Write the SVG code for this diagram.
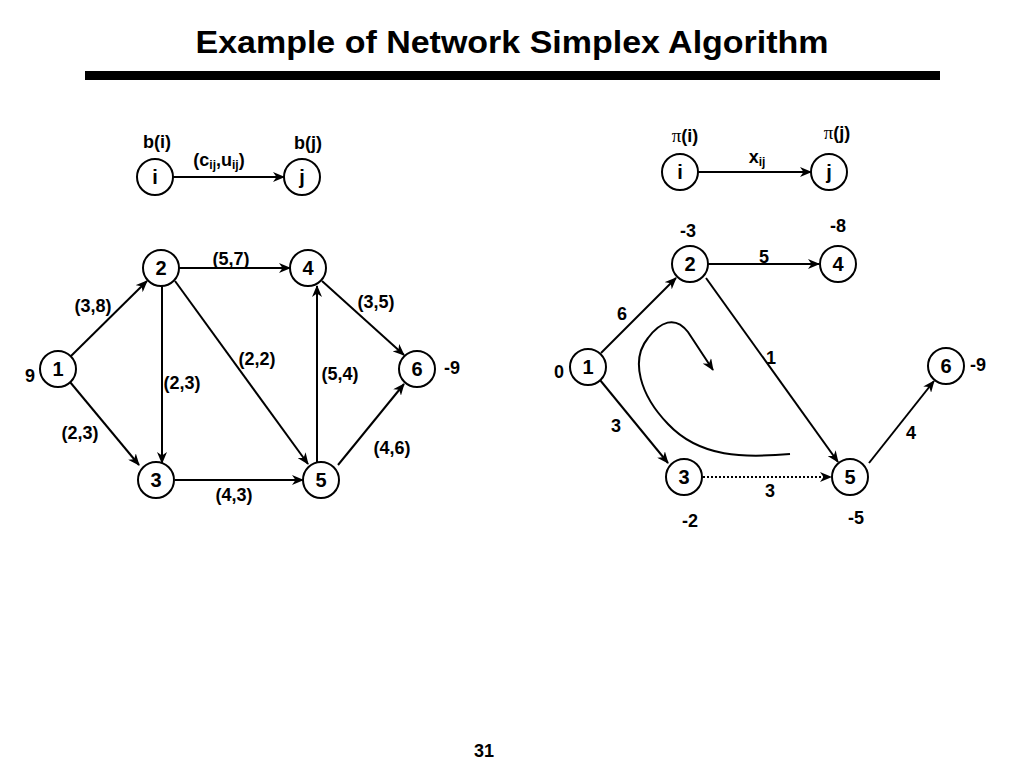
<svg xmlns="http://www.w3.org/2000/svg" width="1024" height="768" viewBox="0 0 1024 768">
<defs>
<marker id="ah" viewBox="0 0 12 10" refX="11" refY="5" markerWidth="12" markerHeight="10" markerUnits="userSpaceOnUse" orient="auto">
<path d="M0,0 L12,5 L0,10 L3.5,5 z" fill="#000"/>
</marker>
<style>
.n{fill:#fff;stroke:#000;stroke-width:2}
.nt{font-family:"Liberation Sans",Arial,sans-serif;font-weight:bold;font-size:20px;text-anchor:middle;fill:#000}
.lb{font-family:"Liberation Sans",Arial,sans-serif;font-weight:bold;font-size:18px;text-anchor:middle;fill:#000}
.gr{font-family:"Liberation Serif","DejaVu Serif",serif;font-weight:normal;font-size:19px}
.e{stroke:#000;stroke-width:2;fill:none;marker-end:url(#ah)}
.d{stroke:#000;stroke-width:2;fill:none;stroke-dasharray:2,2;marker-end:url(#ah)}
</style>
</defs>
<rect width="1024" height="768" fill="#fff"/>
<text x="512" y="53" font-family="'Liberation Sans',Arial,sans-serif" font-weight="bold" font-size="32" text-anchor="middle" textLength="633" lengthAdjust="spacingAndGlyphs">Example of Network Simplex Algorithm</text>
<rect x="85" y="71" width="855" height="9" fill="#000"/>

<g id="connectors">
<line class="e" x1="173" y1="177" x2="284" y2="177"/>
<line class="e" x1="698" y1="172" x2="811" y2="172"/>
<line class="e" x1="71" y1="356" x2="147" y2="281"/>
<line class="e" x1="70" y1="382" x2="139" y2="465"/>
<line class="e" x1="178" y1="268" x2="290" y2="268"/>
<line class="e" x1="162" y1="286" x2="162" y2="463"/>
<line class="e" x1="175" y1="281" x2="308" y2="464"/>
<line class="e" x1="317" y1="462" x2="317" y2="286"/>
<line class="e" x1="322" y1="281" x2="404" y2="355"/>
<line class="e" x1="338" y1="465" x2="404" y2="384"/>
<line class="e" x1="175" y1="480" x2="303" y2="480"/>
<line class="e" x1="601" y1="353" x2="676" y2="278"/>
<line class="e" x1="600" y1="380" x2="668" y2="463"/>
<line class="e" x1="708" y1="264" x2="819" y2="264"/>
<line class="e" x1="706" y1="278" x2="838" y2="462"/>
<line class="d" x1="703" y1="477" x2="831" y2="477"/>
<line class="e" x1="869" y1="463" x2="934" y2="381"/>
<path class="e" d="M790,454 C745,458 700,458 668,424 C640,395 630,360 648,338 C660,322 675,315 688,332 L713,370"/>
</g>

<g id="leg-i"><circle class="n" cx="155" cy="177" r="18"/><text class="nt" x="155" y="184">i</text></g>
<g id="leg-j"><circle class="n" cx="302" cy="177" r="18"/><text class="nt" x="302" y="184">j</text></g>
<text class="lb" x="157" y="148">b(i)</text>
<text class="lb" x="308" y="149">b(j)</text>
<text class="lb" x="219" y="166">(c<tspan font-size="12" dy="3">ij</tspan><tspan dy="-3">,u</tspan><tspan font-size="12" dy="3">ij</tspan><tspan dy="-3">)</tspan></text>

<g id="leg2-i"><circle class="n" cx="680" cy="172" r="18"/><text class="nt" x="680" y="179">i</text></g>
<g id="leg2-j"><circle class="n" cx="829" cy="172" r="18"/><text class="nt" x="829" y="179">j</text></g>
<text class="lb" x="685" y="142"><tspan class="gr">π</tspan>(i)</text>
<text class="lb" x="837" y="139"><tspan class="gr">π</tspan>(j)</text>
<text class="lb" x="757" y="163">x<tspan font-size="12" dy="3">ij</tspan></text>

<g id="L1"><circle class="n" cx="58" cy="369" r="18"/><text class="nt" x="58" y="376">1</text></g>
<g id="L2"><circle class="n" cx="161" cy="268" r="18"/><text class="nt" x="161" y="275">2</text></g>
<g id="L3"><circle class="n" cx="156" cy="480" r="18"/><text class="nt" x="156" y="487">3</text></g>
<g id="L4"><circle class="n" cx="308" cy="268" r="18"/><text class="nt" x="308" y="275">4</text></g>
<g id="L5"><circle class="n" cx="321" cy="480" r="18"/><text class="nt" x="321" y="487">5</text></g>
<g id="L6"><circle class="n" cx="417" cy="369" r="18"/><text class="nt" x="417" y="376">6</text></g>
<text class="lb" x="30" y="382">9</text>
<text class="lb" x="452" y="374">-9</text>
<text class="lb" x="93" y="312">(3,8)</text>
<text class="lb" x="80" y="439">(2,3)</text>
<text class="lb" x="231" y="265">(5,7)</text>
<text class="lb" x="182" y="389">(2,3)</text>
<text class="lb" x="257" y="365">(2,2)</text>
<text class="lb" x="340" y="380">(5,4)</text>
<text class="lb" x="376" y="308">(3,5)</text>
<text class="lb" x="392" y="454">(4,6)</text>
<text class="lb" x="234" y="501">(4,3)</text>

<g id="R1"><circle class="n" cx="588" cy="367" r="18"/><text class="nt" x="588" y="374">1</text></g>
<g id="R2"><circle class="n" cx="690" cy="264" r="18"/><text class="nt" x="690" y="271">2</text></g>
<g id="R3"><circle class="n" cx="684" cy="477" r="18"/><text class="nt" x="684" y="484">3</text></g>
<g id="R4"><circle class="n" cx="838" cy="264" r="18"/><text class="nt" x="838" y="271">4</text></g>
<g id="R5"><circle class="n" cx="850" cy="477" r="18"/><text class="nt" x="850" y="484">5</text></g>
<g id="R6"><circle class="n" cx="946" cy="366" r="18"/><text class="nt" x="946" y="373">6</text></g>
<text class="lb" x="688" y="237">-3</text>
<text class="lb" x="838" y="232">-8</text>
<text class="lb" x="559" y="378">0</text>
<text class="lb" x="978" y="371">-9</text>
<text class="lb" x="690" y="527">-2</text>
<text class="lb" x="856" y="524">-5</text>
<text class="lb" x="764" y="263">5</text>
<text class="lb" x="622" y="320">6</text>
<text class="lb" x="771" y="364">1</text>
<text class="lb" x="616" y="432">3</text>
<text class="lb" x="770" y="497">3</text>
<text class="lb" x="911" y="439">4</text>

<text class="lb" x="484" y="757">31</text>
</svg>
